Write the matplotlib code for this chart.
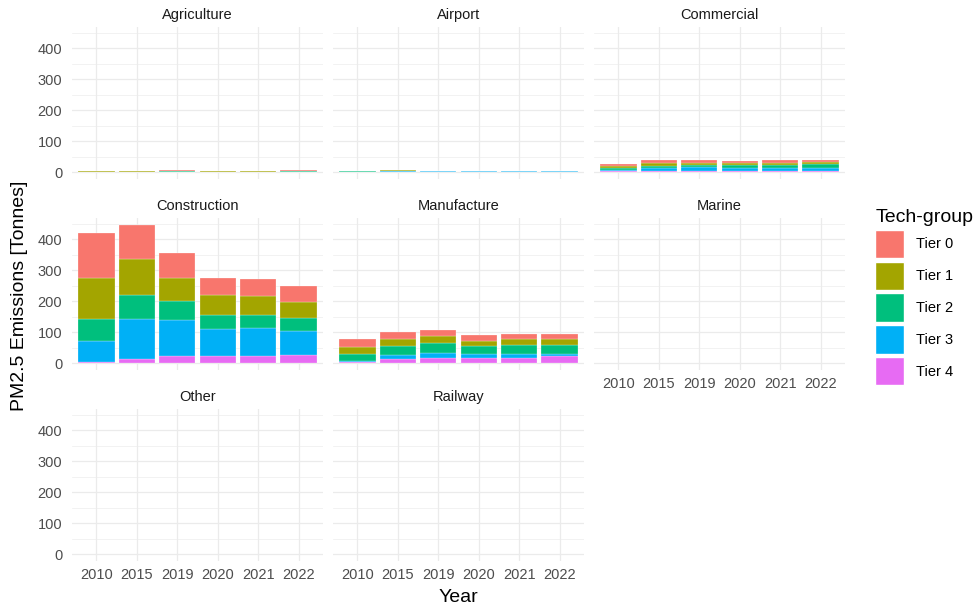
import matplotlib
matplotlib.use("Agg")
import matplotlib.pyplot as plt
import numpy as np
from matplotlib.patches import Patch

plt.rcParams["font.family"] = ["Liberation Sans", "DejaVu Sans"]

years = ["2010", "2015", "2019", "2020", "2021", "2022"]
tiers = ["Tier 0", "Tier 1", "Tier 2", "Tier 3", "Tier 4"]
colors = ["#F8766D", "#A3A500", "#00BF7D", "#00B0F6", "#E76BF3"]
sectors = ["Agriculture", "Airport", "Commercial", "Construction",
           "Manufacture", "Marine", "Other", "Railway"]

# emisiones por tier (Tier 0 .. Tier 4), una lista por año
agriculture = {
    "Tier 0": [2.0, 1.2, 2.5, 1.2, 1.2, 1.8],
    "Tier 1": [1.0, 1.2, 2.0, 1.2, 1.2, 1.6],
    "Tier 2": [0.6, 0.8, 1.8, 0.8, 0.8, 1.8],
    "Tier 3": [0.4, 0.5, 0.6, 0.4, 0.4, 0.6],
    "Tier 4": [0.1, 0.1, 0.2, 0.1, 0.1, 0.2],
}
airport = {
    "Tier 0": [0.3, 0.3, 0.2, 0.2, 0.2, 0.2],
    "Tier 1": [1.0, 0.4, 0.3, 0.3, 0.3, 0.3],
    "Tier 2": [1.5, 0.6, 0.5, 0.4, 0.4, 0.4],
    "Tier 3": [0.6, 4.2, 2.8, 2.5, 2.5, 2.5],
    "Tier 4": [0.1, 0.1, 0.1, 0.1, 0.1, 0.1],
}
commercial = {
    "Tier 0": [6.5, 10.7, 8.6, 6.5, 8.6, 7.5],
    "Tier 1": [6.5, 7.5, 7.5, 6.5, 8.6, 5.4],
    "Tier 2": [6.5, 8.6, 7.5, 8.6, 7.5, 11.8],
    "Tier 3": [4.3, 8.6, 11.8, 9.7, 10.7, 10.7],
    "Tier 4": [2.0, 3.2, 3.2, 3.2, 3.2, 3.2],
}
construction = {
    "Tier 0": [144, 109, 79, 57, 56, 52],
    "Tier 1": [135, 118, 76, 65, 62, 51],
    "Tier 2": [69, 78, 61, 45, 41, 43],
    "Tier 3": [68, 129, 116, 86, 90, 77],
    "Tier 4": [4, 12, 23, 23, 23, 27],
}
manufacture = {
    "Tier 0": [26, 21, 22, 19, 17, 17],
    "Tier 1": [21, 22, 21, 16, 18, 18],
    "Tier 2": [22, 30, 34, 26, 30, 32],
    "Tier 3": [5, 14, 14, 13, 13, 6],
    "Tier 4": [3, 12, 17, 17, 17, 22],
}
data = {"Agriculture": agriculture, "Airport": airport, "Commercial": commercial,
        "Construction": construction, "Manufacture": manufacture}

W, H = 979, 611
fig = plt.figure(figsize=(W / 100, H / 100), dpi=100)

lefts = [72, 333, 594]
tops = [27, 218, 409]
pw, ph = 251, 152

totals = [sum(v[t][i] for t in tiers) for v in data.values() for i in range(len(years))]
ymax = max(totals)
ylim = (-0.05 * ymax, ymax * 1.05)

x = np.arange(len(years))
for k, sec in enumerate(sectors):
    r, c = divmod(k, 3)
    ax = fig.add_axes([lefts[c] / W, 1 - (tops[r] + ph) / H, pw / W, ph / H])
    ax.set_xlim(-0.6, len(years) - 0.4)
    ax.set_ylim(*ylim)
    ax.set_yticks([0, 100, 200, 300, 400])
    ax.set_yticks([50, 150, 250, 350, 450], minor=True)
    ax.set_xticks(x)
    ax.grid(True, which="major", color="#EBEBEB", lw=0.9)
    ax.grid(True, which="minor", axis="y", color="#EBEBEB", lw=0.45)
    ax.set_axisbelow(True)
    for s in ax.spines.values():
        s.set_visible(False)
    ax.tick_params(which="both", length=0, labelsize=10.5, labelcolor="#4D4D4D")
    ax.tick_params(axis="y", pad=7)
    ax.tick_params(axis="x", pad=5)

    if sec in data:
        bottom = np.zeros(len(years))
        for t, col in zip(tiers[::-1], colors[::-1]):
            vals = np.array(data[sec][t])
            ax.bar(x, vals, 0.9, bottom=bottom, color=col,
                   edgecolor=(1, 1, 1, 0.6), lw=0.3)
            bottom += vals

    # etiquetas x solo donde no hay panel debajo
    ax.set_xticklabels(years if k >= 5 else [])
    if c != 0:
        ax.set_yticklabels([])
    ax.set_title(sec, fontsize=10.5, color="#1A1A1A", pad=6)

fig.text(20 / W, 1 - 296 / H, "PM2.5 Emissions [Tonnes]", rotation=90,
         ha="center", va="center", fontsize=14, color="black")
fig.text(458 / W, 1 - 597 / H, "Year", ha="center", va="center", fontsize=14)

handles = [Patch(facecolor=c, edgecolor="white") for c in colors]
fig.legend(handles, tiers, loc="upper left", bbox_to_anchor=(862 / W, 1 - 196 / H),
           frameon=False, title="Tech-group", title_fontsize=14, fontsize=10.5,
           handlelength=1.95, handleheight=2.6, handletextpad=0.85, labelspacing=0.25,
           alignment="left")

fig.savefig("out.png", dpi=100)
